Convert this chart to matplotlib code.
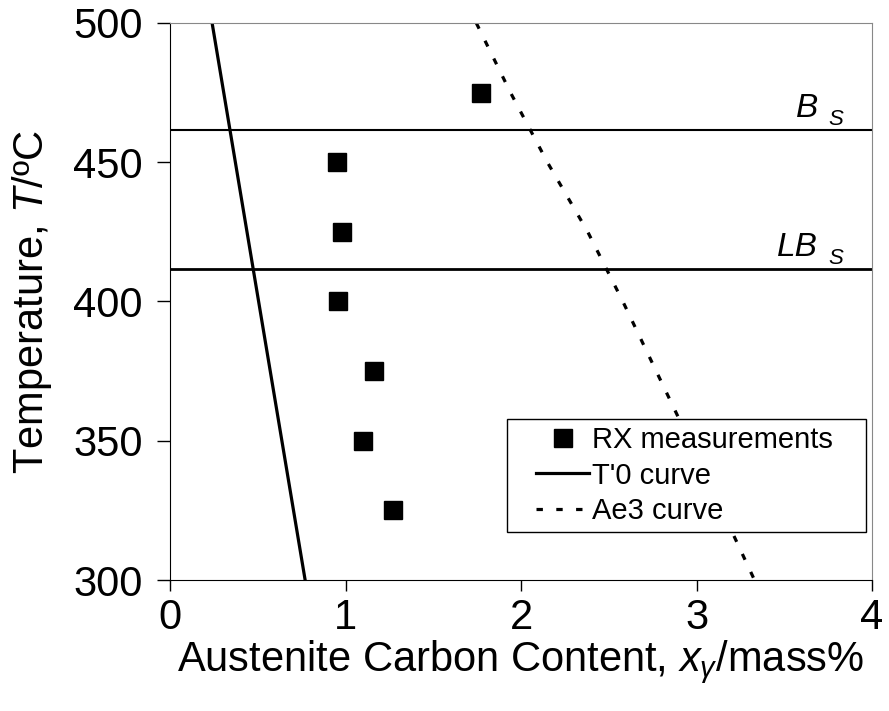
import matplotlib
matplotlib.use('Agg')
import matplotlib.pyplot as plt
from matplotlib.legend_handler import HandlerLine2D

plt.rcParams['font.family'] = ['Liberation Sans', 'DejaVu Sans']
plt.rcParams['mathtext.fontset'] = 'custom'
plt.rcParams['mathtext.rm'] = 'Liberation Sans'
plt.rcParams['mathtext.it'] = 'Liberation Sans:italic'
plt.rcParams['mathtext.bf'] = 'Liberation Sans:bold'

# Medidas RX (contenido de carbono vs temperatura)
rx_carbon = [0.95, 0.98, 0.96, 1.16, 1.10, 1.27, 1.77]
rx_temp = [450, 425, 400, 375, 350, 325, 475]

# Curva T'0
t0_carbon = [0.24, 0.505, 0.77]
t0_temp = [500, 400, 300]

# Curva Ae3
ae3_carbon = [1.745, 1.94, 2.15, 2.38, 2.58, 2.77, 2.96, 3.145, 3.33]
ae3_temp = [500, 475, 450, 425, 400, 375, 350, 325, 300]

# Temperaturas Bs y LBs
bs_temp = 461.5
lbs_temp = 411.5

fig = plt.figure(figsize=(8.89, 7.11), dpi=100)
ax = fig.add_axes([0.1912, 0.1842, 0.7898, 0.7835])

ax.plot(rx_carbon, rx_temp, 's', color='black', markersize=12.5, linestyle='none',
        label='RX measurements')
ax.plot(t0_carbon, t0_temp, '-', color='black', linewidth=2.3, label="T'0 curve")
ax.plot(ae3_carbon, ae3_temp, color='black', linewidth=2.3, linestyle=(0, (2, 4.2)),
        label='Ae3 curve')

ax.axhline(bs_temp, color='black', linewidth=1.5)
ax.axhline(lbs_temp, color='black', linewidth=2.0)

# Etiquetas Bs y LBs (texto en cursiva + subindice)
for main, temp in [('B', bs_temp), ('LB', lbs_temp)]:
    ax.annotate(main, xy=(1, temp), xycoords=('axes fraction', 'data'),
                xytext=(-39, 9.5), textcoords='offset points',
                fontsize=24, style='italic', ha='right', va='baseline')
    ax.annotate('S', xy=(1, temp), xycoords=('axes fraction', 'data'),
                xytext=(-31.7, 3.6), textcoords='offset points',
                fontsize=16, style='italic', ha='left', va='baseline')

ax.set_xlim(0, 4)
ax.set_ylim(300, 500)
ax.set_xticks([0, 1, 2, 3, 4])
ax.set_yticks([300, 350, 400, 450, 500])
ax.tick_params(axis='both', labelsize=30, direction='out', width=1)
ax.tick_params(axis='x', length=8, pad=5)
ax.tick_params(axis='y', length=9.5, pad=10)

ax.set_xlabel('Austenite Carbon Content, $x_\\gamma$/mass%', fontsize=30, labelpad=0)
ax.set_ylabel('Temperature, $T$/ºC', fontsize=30, labelpad=14)

for s in ['top', 'right']:
    ax.spines[s].set_color('#888888')
for s in ['left', 'bottom']:
    ax.spines[s].set_color('black')

hm = {l: HandlerLine2D(xpad=0.76) for l in ax.get_lines()}
leg = ax.legend(loc='lower left', bbox_to_anchor=(0.48, 0.086, 0.5115, 0.196),
                mode='expand', fontsize=21, handler_map=hm,
                frameon=True, fancybox=False, edgecolor='black', framealpha=1,
                handlelength=2.55, handletextpad=0.1, labelspacing=0.25,
                borderpad=0.25, borderaxespad=0)
leg.get_frame().set_linewidth(1.0)

fig.savefig('out.png', dpi=100)
